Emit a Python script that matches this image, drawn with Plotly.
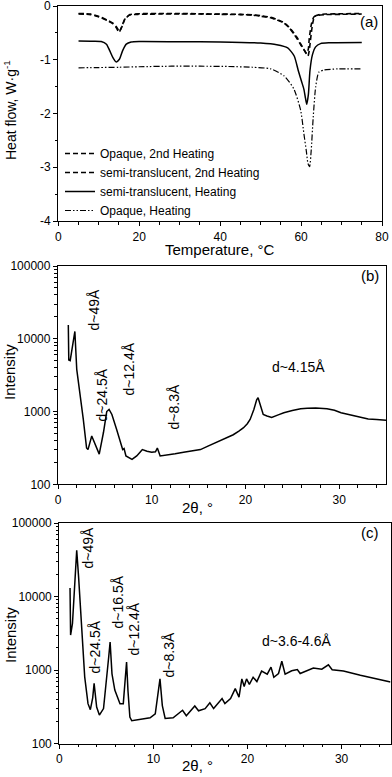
import plotly.graph_objects as go

W, H = 392, 777

# ---------------- Panel (a): DSC ----------------
T_op2 = [5, 8, 10.6, 12.3, 13.5, 14.3, 15.0, 15.6, 16.4, 17.6, 19.7, 25, 30, 35, 40, 45, 48, 50, 52.5, 54, 55.8, 57, 58.2, 59.1, 59.9, 60.6, 61.1, 61.4, 61.8, 62.0, 62.3, 62.6, 63.2, 64.4, 66, 70, 75]
Q_op2 = [-0.15, -0.16, -0.22, -0.28, -0.33, -0.40, -0.49, -0.40, -0.25, -0.17, -0.155, -0.15, -0.15, -0.15, -0.155, -0.16, -0.17, -0.19, -0.22, -0.26, -0.32, -0.40, -0.52, -0.62, -0.72, -0.80, -0.86, -0.88, -0.80, -0.62, -0.45, -0.32, -0.20, -0.17, -0.16, -0.155, -0.15]

T_st2 = [5, 8, 10.6, 12.3, 13.5, 14.4, 15.1, 15.7, 16.5, 17.7, 19.8, 25, 30, 35, 40, 45, 48, 50, 52.5, 54, 55.8, 57, 58.2, 59.2, 60.0, 60.8, 61.3, 61.7, 62.0, 62.3, 62.6, 62.9, 63.4, 64.6, 66, 70, 75]
Q_st2 = [-0.14, -0.15, -0.21, -0.27, -0.32, -0.39, -0.47, -0.39, -0.24, -0.16, -0.145, -0.14, -0.14, -0.145, -0.15, -0.155, -0.165, -0.18, -0.21, -0.25, -0.31, -0.39, -0.50, -0.61, -0.72, -0.82, -0.89, -0.93, -0.84, -0.65, -0.46, -0.31, -0.19, -0.16, -0.15, -0.145, -0.14]

T_st = [5, 8, 10.6, 11.9, 12.7, 13.5, 14.3, 15.1, 15.9, 16.8, 18, 20, 30, 40, 50, 54, 56.7, 58.3, 59.3, 60.1, 60.7, 61.1, 61.4, 61.8, 62.2, 62.8, 63.6, 64.8, 67, 75]
Q_st = [-0.65, -0.655, -0.66, -0.71, -0.83, -0.96, -1.04, -0.99, -0.83, -0.71, -0.67, -0.66, -0.665, -0.67, -0.69, -0.72, -0.78, -0.93, -1.20, -1.40, -1.55, -1.72, -1.83, -1.65, -1.20, -0.91, -0.76, -0.70, -0.685, -0.68]

T_opq = [5, 10, 15, 20, 28, 35, 42, 48, 52.5, 55.8, 58.2, 59.9, 60.7, 61.3, 61.7, 62.1, 62.5, 63.0, 63.6, 64.4, 65.7, 69, 75]
Q_opq = [-1.15, -1.145, -1.14, -1.13, -1.12, -1.12, -1.125, -1.14, -1.17, -1.30, -1.54, -1.94, -2.38, -2.70, -2.93, -2.99, -2.69, -2.07, -1.51, -1.23, -1.19, -1.17, -1.17]

# ---------------- Panel (b): XRD ----------------
th_b = [1.1, 1.15, 1.3, 1.55, 1.8, 2.0, 2.35, 2.7, 3.05, 3.2, 3.6, 3.95, 4.4, 4.85, 5.2, 5.45, 5.75, 6.25, 6.6, 6.9, 7.05, 7.25, 7.9, 8.4, 8.8, 9.0, 9.5, 10.0, 10.4, 10.6, 10.9, 11.6, 12.5, 13.4, 14.3, 15.2, 16.0, 16.9, 17.8, 18.7, 19.3, 19.8, 20.2, 20.5, 20.9, 21.2, 21.35, 21.6, 21.9, 22.3, 22.8, 23.5, 24.1, 25.0, 25.9, 26.6, 27.5, 28.7, 29.5, 30.2, 31.0, 31.6, 32.4, 33.1, 34.0, 35.0]
I_b = [15500, 5100, 5000, 7500, 12600, 3800, 1800, 780, 315, 300, 460, 350, 260, 515, 1000, 1070, 910, 570, 390, 300, 310, 245, 220, 245, 280, 300, 285, 275, 280, 315, 245, 250, 262, 275, 285, 300, 335, 380, 420, 480, 540, 600, 680, 780, 1070, 1450, 1550, 1180, 910, 870, 830, 900, 960, 1030, 1090, 1110, 1120, 1090, 1040, 960, 910, 870, 840, 790, 780, 760]

# ---------------- Panel (c): XRD ----------------
th_c = [1.14, 1.2, 1.4, 1.7, 1.85, 2.05, 2.4, 2.7, 3.05, 3.3, 3.55, 3.7, 3.97, 4.26, 4.7, 5.0, 5.25, 5.4, 5.6, 5.9, 6.45, 6.8, 7.0, 7.15, 7.3, 7.5, 7.7, 8.6, 9.65, 10.2, 10.5, 10.7, 10.95, 11.25, 12.1, 13.1, 13.5, 14.4, 14.8, 15.5, 16.0, 16.4, 17.3, 17.6, 18.2, 18.7, 19.1, 19.4, 19.65, 19.9, 20.2, 20.6, 21.0, 21.5, 22.1, 22.5, 22.8, 23.3, 23.65, 24.0, 24.7, 25.3, 25.6, 27.0, 27.9, 28.6, 29.0, 30.2, 32.0, 33.8, 35.2]
I_c = [13100, 3000, 4300, 22700, 42500, 18500, 2800, 810, 350, 290, 420, 660, 315, 245, 300, 660, 1510, 2400, 890, 535, 350, 350, 660, 1290, 520, 230, 205, 215, 225, 255, 500, 760, 330, 220, 225, 285, 240, 325, 280, 300, 360, 300, 410, 350, 410, 560, 430, 760, 600, 760, 640, 800, 700, 970, 880, 1100, 800, 900, 1320, 880, 980, 1020, 900, 1070, 1030, 1180, 1010, 975, 850, 760, 690]

# --------- annotation texts ---------
labels_b = ["d~49Å", "d~24.5Å", "d~12.4Å", "d~8.3Å"]
labels_c = ["d~49Å", "d~24.5Å", "d~16.5Å", "d~12.4Å", "d~8.3Å"]

FONT = "Liberation Sans, Arial, sans-serif"


def px2x(p):
    return p / W


def px2y(p):
    return 1 - p / H


fig = go.Figure()
blk = "black"
fig.add_trace(go.Scatter(x=T_op2, y=Q_op2, mode="lines", name="Opaque, 2nd Heating",
                         line=dict(color=blk, width=1.6, dash="5px,3px", shape="spline", smoothing=0.6), xaxis="x", yaxis="y"))
fig.add_trace(go.Scatter(x=T_st2, y=Q_st2, mode="lines", name="semi-translucent, 2nd Heating",
                         line=dict(color=blk, width=1.6, dash="5px,3px", shape="spline", smoothing=0.6), xaxis="x", yaxis="y"))
fig.add_trace(go.Scatter(x=T_st, y=Q_st, mode="lines", name="semi-translucent, Heating",
                         line=dict(color=blk, width=1.5, shape="spline", smoothing=0.6), xaxis="x", yaxis="y"))
fig.add_trace(go.Scatter(x=T_opq, y=Q_opq, mode="lines", name="Opaque, Heating",
                         line=dict(color=blk, width=1.2, dash="6px,2px,1.5px,2px,1.5px,2px", shape="spline", smoothing=0.6), xaxis="x", yaxis="y"))
fig.add_trace(go.Scatter(x=th_b, y=I_b, mode="lines", showlegend=False,
                         line=dict(color=blk, width=1.5), xaxis="x2", yaxis="y2"))
fig.add_trace(go.Scatter(x=th_c, y=I_c, mode="lines", showlegend=False,
                         line=dict(color=blk, width=1.5), xaxis="x3", yaxis="y3"))

tickfont = dict(family=FONT, size=12, color=blk)
common = dict(showline=True, linecolor=blk, linewidth=1.3, mirror=True, ticks="outside",
              ticklen=4, tickwidth=1.2, tickcolor=blk, showgrid=False, zeroline=False, tickfont=tickfont,
              automargin=False, ticklabeloverflow="allow")

log_minor = [v * 10 ** e for e in (2, 3, 4) for v in range(2, 10)]

fig.update_layout(
    width=W, height=H, plot_bgcolor="white", paper_bgcolor="white",
    margin=dict(l=0, r=0, t=0, b=0, autoexpand=False),
    showlegend=True,
    legend=dict(x=px2x(60), y=px2y(139), xanchor="left", yanchor="top", bgcolor="rgba(0,0,0,0)",
                font=dict(family=FONT, size=12, color=blk), itemwidth=30, tracegroupgap=0),
    xaxis=dict(domain=[px2x(58.3), px2x(382)], range=[0, 80], tickvals=[0, 20, 40, 60, 80],
               minor=dict(ticks="outside", ticklen=2.5, tickcolor=blk, dtick=5, showgrid=False), anchor="y", **common),
    yaxis=dict(domain=[px2y(221), px2y(6)], range=[-4, 0], tickvals=[0, -1, -2, -3, -4],
               ticktext=["0", "-1", "-2", "-3", "-4"],
               minor=dict(ticks="outside", ticklen=2.5, tickcolor=blk, dtick=0.5, showgrid=False), anchor="x", **common),
    xaxis2=dict(domain=[px2x(58), px2x(386)], range=[0, 35], tickvals=[0, 10, 20, 30],
                minor=dict(ticks="outside", ticklen=2.5, tickcolor=blk, dtick=2, showgrid=False), anchor="y2", **common),
    yaxis2=dict(domain=[px2y(484.3), px2y(266)], type="log", range=[2, 5],
                tickvals=[100, 1000, 10000, 100000], ticktext=["100", "1000", "10000", "100000"],
                minor=dict(ticks="outside", ticklen=2.5, tickcolor=blk, tickvals=log_minor, showgrid=False), anchor="x2", **common),
    xaxis3=dict(domain=[px2x(59.3), px2x(390.5)], range=[0, 35.2], tickvals=[0, 10, 20, 30],
                minor=dict(ticks="outside", ticklen=2.5, tickcolor=blk, dtick=2, showgrid=False), anchor="y3", **common),
    yaxis3=dict(domain=[px2y(743.7), px2y(523)], type="log", range=[2, 5],
                tickvals=[100, 1000, 10000, 100000], ticktext=["100", "1000", "10000", "100000"],
                minor=dict(ticks="outside", ticklen=2.5, tickcolor=blk, tickvals=log_minor, showgrid=False), anchor="x3", **common),
)

ann = []


def text(x, y, s, size=14, angle=0):
    ann.append(dict(x=px2x(x), y=px2y(y), xref="paper", yref="paper", text=s, showarrow=False,
                    textangle=angle, font=dict(family=FONT, size=size, color=blk),
                    xanchor="center", yanchor="middle"))


# axis titles
text(10, 110, "Heat flow, W·g<sup>-1</sup>", 14, -90)
text(220, 249, "Temperature, °C", 15)
text(10, 372, "Intensity", 15, -90)
text(197, 508, "2θ, °", 15)
text(10, 635, "Intensity", 15, -90)
text(197, 765, "2θ, °", 15)
# panel letters
text(369, 22, "(a)", 15)
text(370, 275, "(b)", 15)
text(370, 532, "(c)", 15)
# panel b labels
pos_b = [(93.5, 310), (101.5, 395), (128.5, 369), (173.5, 407)]
for (x, y), s in zip(pos_b, labels_b):
    text(x, y, s, 14, -90)
text(298, 367, "d~4.15Å", 14)
# panel c labels
pos_c = [(87.5, 548), (94.5, 647), (117.5, 602), (133.5, 629), (168.5, 655)]
for (x, y), s in zip(pos_c, labels_c):
    text(x, y, s, 14, -90)
text(297, 641, "d~3.6-4.6Å", 14)

fig.update_layout(annotations=ann)
fig.write_html("out.html", config={"displayModeBar": False},
               post_script="document.body.style.margin='0px';")
